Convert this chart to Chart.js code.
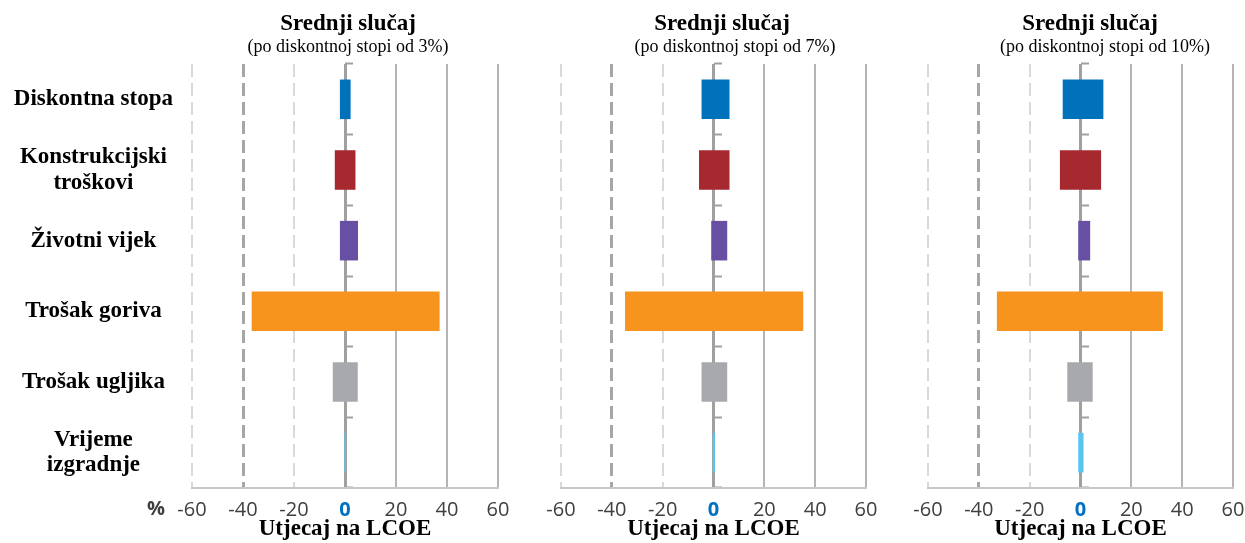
<!DOCTYPE html>
<html>
<head>
<meta charset="utf-8">
<script src="https://cdn.jsdelivr.net/npm/chart.js@4.4.1/dist/chart.umd.min.js"></script>
<style>
body { margin:0; background:#fff; width:1245px; height:543px; position:relative; overflow:hidden; }
canvas { position:absolute; top:0; }
.naslov { position:absolute; width:400px; text-align:center; font-family:'Liberation Serif', serif; color:#000; line-height:1; white-space:nowrap; }
.n1 { font-weight:bold; font-size:23px; top:11px; }
.n2 { font-size:18px; top:37px; }
#posto { position:absolute; left:141px; top:498px; width:30px; text-align:center; font-family:'Open Sans', sans-serif; font-weight:bold; font-size:20px; line-height:1; color:#404040; }
</style>
</head>
<body>
<canvas id="c1" width="520" height="543" style="left:0px"></canvas>
<canvas id="c2" width="360" height="543" style="left:540px"></canvas>
<canvas id="c3" width="340" height="543" style="left:905px"></canvas>

<div class="naslov n1" style="left:148px">Srednji slučaj</div>
<div class="naslov n2" style="left:148px">(po diskontnoj stopi od 3%)</div>
<div class="naslov n1" style="left:522px">Srednji slučaj</div>
<div class="naslov n2" style="left:535px">(po diskontnoj stopi od 7%)</div>
<div class="naslov n1" style="left:890px">Srednji slučaj</div>
<div class="naslov n2" style="left:905px">(po diskontnoj stopi od 10%)</div>
<div id="posto">%</div>

<script>
var kategorije = ['Diskontna stopa', ['Konstrukcijski', 'troškovi'], 'Životni vijek', 'Trošak goriva', 'Trošak ugljika', ['Vrijeme', 'izgradnje']];
var boje = ['#0072BC', '#A6292F', '#6750A4', '#F7941D', '#A7A9AC', '#5BC5F2'];
var oznakeX = [-60, -40, -20, 0, 20, 40, 60];

// raspon utjecaja na LCOE (%), donja i gornja granica
var donje3 = [-2, -4, -2, -36.6, -4.8, -0.2];
var gornje3 = [2.2, 4.1, 5.1, 37.1, 5, 0.3];
var donje7 = [-4.7, -5.7, -0.9, -34.8, -4.7, -0.3];
var gornje7 = [6.3, 6.3, 5.4, 35.3, 5.4, 0.6];
var donje10 = [-7, -8.1, -0.9, -32.9, -5.2, -0.9];
var gornje10 = [9, 8.1, 3.8, 32.4, 4.8, 1.2];

function bojaLinije(c) {
  var v = c.tick ? c.tick.value : null;
  if (v === 0) return '#a0a0a0';
  if (v === -40) return '#a6a6a6';
  if (v === -60 || v === -20) return '#d9d9d9';
  return '#b5b5b5';
}
function debljinaLinije(c) {
  var v = c.tick ? c.tick.value : null;
  if (v === 0 || v === -40) return 3;
  return 2;
}
function crtkanje(c) {
  var v = c.tick ? c.tick.value : null;
  if (v === -60 || v === -40 || v === -20) return [13, 6];
  return [];
}

function napraviGraf(id, donje, gornje, saOznakama, lijevo, desno) {
  var ctx = document.getElementById(id).getContext('2d');
  return new Chart(ctx, {
    type: 'bar',
    data: {
      labels: kategorije,
      datasets: [{
        data: donje.map(function (d, i) { return [d, gornje[i]]; }),
        backgroundColor: boje,
        borderWidth: 0,
        barPercentage: 0.56,
        categoryPercentage: 1,
        yAxisID: 'y'
      }]
    },
    options: {
      indexAxis: 'y',
      responsive: false,
      animation: false,
      layout: { padding: { top: 64, left: lijevo, right: desno, bottom: 0 } },
      plugins: { legend: { display: false }, tooltip: { enabled: false } },
      scales: {
        x: {
          type: 'linear',
          min: -60,
          max: 60,
          afterBuildTicks: function (s) { s.ticks = oznakeX.map(function (v) { return { value: v }; }); },
          afterFit: function (s) { s.height = 55; s.paddingLeft = 0; s.paddingRight = 0; },
          ticks: {
            padding: 10,
            color: function (c) { return c.tick && c.tick.value === 0 ? '#0070C0' : '#404040'; },
            font: function (c) {
              return { family: 'Open Sans', size: 20, weight: c.tick && c.tick.value === 0 ? 'bold' : 'normal' };
            }
          },
          grid: { drawTicks: false, color: bojaLinije, lineWidth: debljinaLinije },
          border: { display: true, color: '#c8c8c8', width: 2, dash: crtkanje },
          title: {
            display: true,
            text: 'Utjecaj na LCOE',
            color: '#000',
            font: { family: 'Liberation Serif', size: 23, weight: 'bold' },
            padding: { top: 0, bottom: 0 }
          }
        },
        y: {
          display: saOznakama,
          afterFit: function (s) { s.width = saOznakama ? 192 : 0; s.paddingTop = 0; s.paddingBottom = 0; },
          grid: { display: false, drawTicks: false },
          border: { display: false },
          ticks: {
            color: '#000',
            padding: 19,
            crossAlign: 'center',
            font: { family: 'Liberation Serif', size: 23, weight: 'bold', lineHeight: 1.1 }
          }
        },
        y2: {
          type: 'category',
          axis: 'y',
          position: { x: 0 },
          offset: true,
          ticks: { display: false },
          grid: { display: true, offset: true, drawOnChartArea: false, drawTicks: true, tickLength: -8, tickColor: '#a0a0a0', tickWidth: 2 },
          border: { display: false }
        }
      }
    }
  });
}

var graf1 = napraviGraf('c1', donje3, gornje3, true, 0, 22);
var graf2 = napraviGraf('c2', donje7, gornje7, false, 21, 34);
var graf3 = napraviGraf('c3', donje10, gornje10, false, 23, 12);
</script>
</body>
</html>
